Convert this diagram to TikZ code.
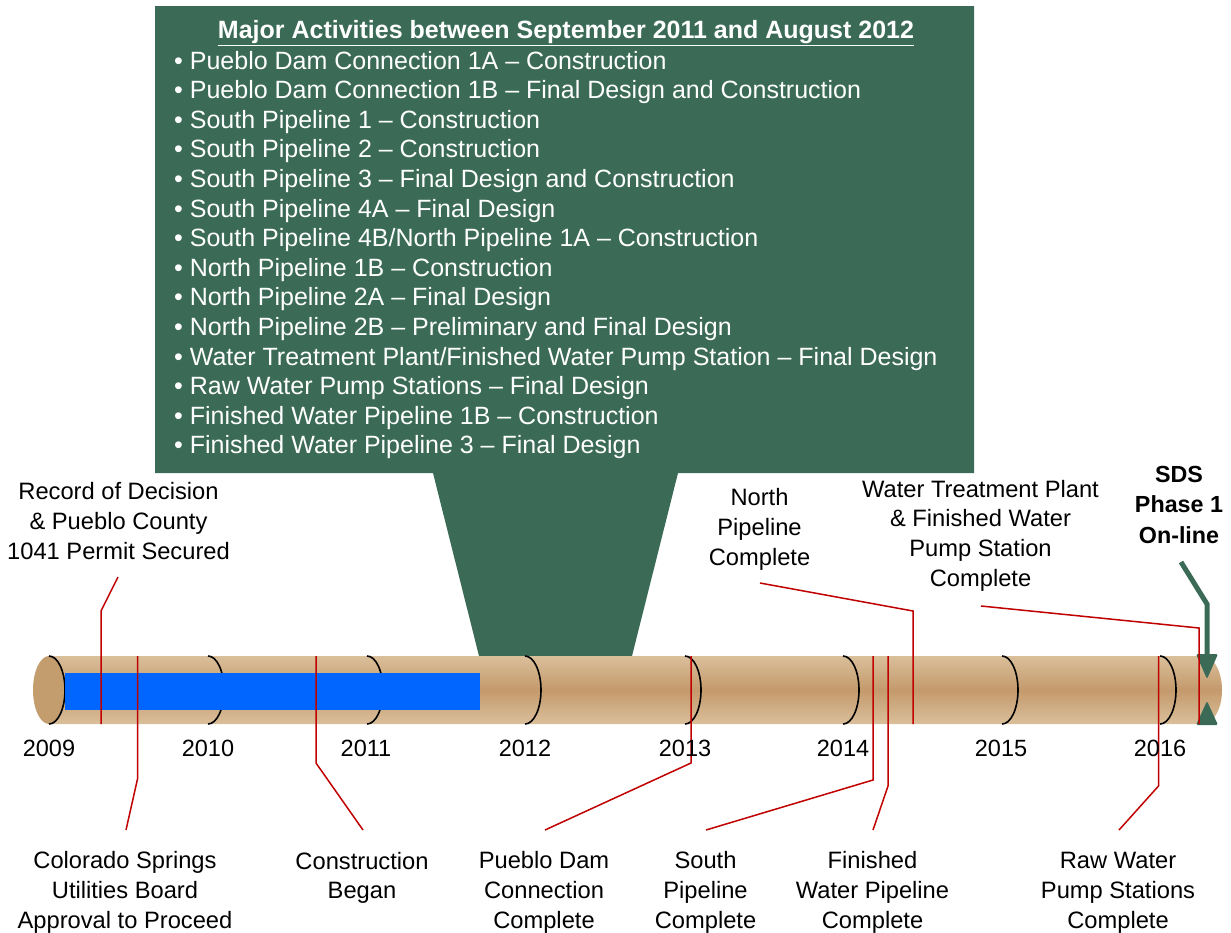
\documentclass[tikz,border=0pt]{standalone}
\usepackage{fontspec}
\setmainfont{Liberation Sans}
\begin{document}
\begin{tikzpicture}[x=1pt,y=-1pt]
\definecolor{callgreen}{HTML}{3B6B57}
\definecolor{pipelight}{HTML}{DABF9B}
\definecolor{pipemid}{HTML}{C49A6C}
\definecolor{pipecap}{HTML}{C49D6F}
\definecolor{leadred}{HTML}{C00000}
\definecolor{waterblue}{HTML}{0066FF}
\tikzset{
  lead/.style={draw=leadred, line width=1.5pt},
  joint/.style={draw=black, line width=1.6pt},
  lbl/.style={font=\fontsize{23.7}{29.8}\selectfont, align=center, inner sep=0pt, anchor=base},
  yr/.style={font=\fontsize{23.5}{28}\selectfont, inner sep=0pt, anchor=base},
  item/.style={font=\fontsize{25}{30}\selectfont, text=white, inner sep=0pt, anchor=base west},
  sdslbl/.style={font=\bfseries\fontsize{23.3}{30.2}\selectfont, align=center, inner sep=0pt, anchor=base},
}
\useasboundingbox (0,0) rectangle (1231,932);
% callout
\fill[callgreen] (155,6) -- (974,6) -- (974,473) -- (678,473) -- (632,656) -- (479,656) -- (433,473) -- (155,473) -- cycle;
\node[font=\bfseries\fontsize{25}{30}\selectfont, text=white, inner sep=0pt, anchor=base] (title) at (566,38)
  {\underline{Major Activities between September 2011 and August 2012}};
\foreach \t [count=\i] in {
  Pueblo Dam Connection 1A – Construction,
  Pueblo Dam Connection 1B – Final Design and Construction,
  South Pipeline 1 – Construction,
  South Pipeline 2 – Construction,
  South Pipeline 3 – Final Design and Construction,
  South Pipeline 4A – Final Design,
  South Pipeline 4B/North Pipeline 1A – Construction,
  North Pipeline 1B – Construction,
  North Pipeline 2A – Final Design,
  North Pipeline 2B – Preliminary and Final Design,
  Water Treatment Plant/Finished Water Pump Station – Final Design,
  Raw Water Pump Stations – Final Design,
  Finished Water Pipeline 1B – Construction,
  Finished Water Pipeline 3 – Final Design}
  {\node[item] (item\i) at (174,{69+29.6*(\i-1)}) {• \t};}
% pipe body
\shade[top color=pipelight, bottom color=pipelight, middle color=pipemid]
  (49,656) -- (1203,656) arc[start angle=-90, end angle=90, x radius=19, y radius=34] -- (49,724) -- cycle;
% left end cap
\fill[pipecap] (49,690) ellipse[x radius=16, y radius=34];
\draw[joint] (49,656) arc[start angle=-90, end angle=90, x radius=16, y radius=34];
% joints
\foreach \x in {208,367,525,685,843,1002,1160}
  \draw[joint] (\x,656) arc[start angle=-90, end angle=90, x radius=16, y radius=34];
% water bar
\fill[waterblue] (65,673) rectangle (480,710);
% green arrow
\coordinate (gA) at (1181,562);
\coordinate (gB) at (1207,604);
\coordinate (gC) at (1207,656);
\draw[callgreen, line width=5pt] (gA) -- (gB) -- (gC);
\fill[callgreen, rounded corners=1.5pt] (1196,654) -- (1218,654) -- (1207,679) -- cycle;
\fill[callgreen, rounded corners=1.5pt] (1196,725) -- (1218,725) -- (1207,701) -- cycle;
% leader lines
\coordinate (rodA) at (118,577); \coordinate (rodB) at (101,611); \coordinate (rodC) at (101,724);
\draw[lead] (rodA) -- (rodB) -- (rodC);
\coordinate (csuA) at (137.5,656); \coordinate (csuB) at (137.5,779); \coordinate (csuC) at (126,830);
\draw[lead] (csuA) -- (csuB) -- (csuC);
\coordinate (cbA) at (316,656); \coordinate (cbB) at (316,763); \coordinate (cbC) at (363,830);
\draw[lead] (cbA) -- (cbB) -- (cbC);
\coordinate (pdA) at (691,656); \coordinate (pdB) at (691,763); \coordinate (pdC) at (545,830);
\draw[lead] (pdA) -- (pdB) -- (pdC);
\coordinate (spA) at (873,656); \coordinate (spB) at (873,780); \coordinate (spC) at (706,830);
\draw[lead] (spA) -- (spB) -- (spC);
\coordinate (fwA) at (888,656); \coordinate (fwB) at (888,786); \coordinate (fwC) at (873,830);
\draw[lead] (fwA) -- (fwB) -- (fwC);
\coordinate (npA) at (760,583); \coordinate (npB) at (913,611); \coordinate (npC) at (913,724);
\draw[lead] (npA) -- (npB) -- (npC);
\coordinate (rwA) at (1158.5,656); \coordinate (rwB) at (1158.5,786); \coordinate (rwC) at (1119,830);
\draw[lead] (rwA) -- (rwB) -- (rwC);
\coordinate (wtA) at (981,606); \coordinate (wtB) at (1199,628); \coordinate (wtC) at (1199,724);
\draw[lead] (wtA) -- (wtB) -- (wtC);
% years
\foreach \yv/\xv in {2009/49,2010/208,2011/366,2012/525,2013/685,2014/843,2015/1001,2016/1160}
  \node[yr] (y\yv) at (\xv,756) {\yv};
% top labels (base anchor = last line)
\node[lbl] (rod) at (118.5,559) {Record of Decision\\\& Pueblo County\\1041 Permit Secured};
\node[lbl] (npc) at (759.5,565.5) {North\\Pipeline\\Complete};
\node[lbl] (wtp) at (980.5,586.5) {Water Treatment Plant\\\& Finished Water\\Pump Station\\Complete};
\node[sdslbl] (sds) at (1179,543) {SDS\\Phase 1\\On-line};
% bottom labels
\node[lbl] (csu) at (125,928.5) {Colorado Springs\\Utilities Board\\Approval to Proceed};
\node[lbl] (cb) at (362,898.8) {Construction\\Began};
\node[lbl] (pdc) at (544,928.5) {Pueblo Dam\\Connection\\Complete};
\node[lbl] (spc) at (705.5,928.5) {South\\Pipeline\\Complete};
\node[lbl] (fwp) at (872.5,928.5) {Finished\\Water Pipeline\\Complete};
\node[lbl] (rws) at (1118,928.5) {Raw Water\\Pump Stations\\Complete};
\end{tikzpicture}
\end{document}
